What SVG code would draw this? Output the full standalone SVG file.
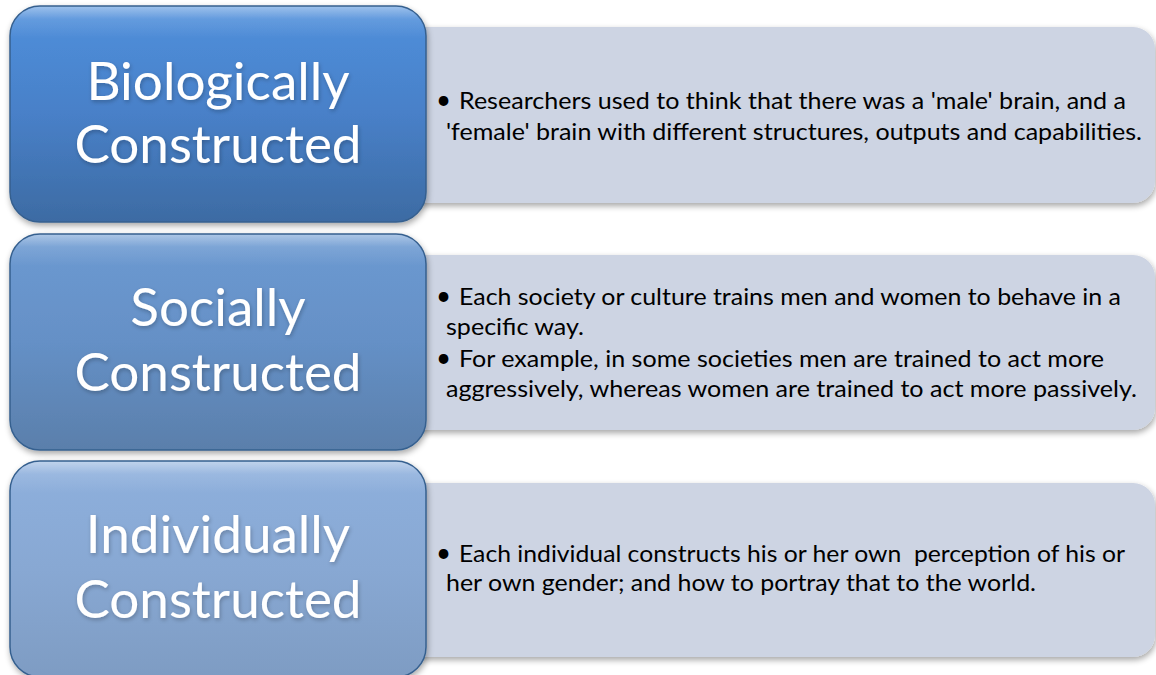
<svg xmlns="http://www.w3.org/2000/svg" width="1156" height="675" viewBox="0 0 1156 675">
  <defs>
    <linearGradient id="g1" x1="0" y1="0" x2="0" y2="1">
      <stop offset="0" stop-color="#5090dc"/>
      <stop offset="0.5" stop-color="#4880c8"/>
      <stop offset="1" stop-color="#3d6ba3"/>
    </linearGradient>
    <linearGradient id="g2" x1="0" y1="0" x2="0" y2="1">
      <stop offset="0" stop-color="#6c9ad2"/>
      <stop offset="0.5" stop-color="#6590c6"/>
      <stop offset="1" stop-color="#5a7fab"/>
    </linearGradient>
    <linearGradient id="g3" x1="0" y1="0" x2="0" y2="1">
      <stop offset="0" stop-color="#8eb0dd"/>
      <stop offset="0.5" stop-color="#88a8d3"/>
      <stop offset="1" stop-color="#7e9cc3"/>
    </linearGradient>
    <linearGradient id="gloss" x1="0" y1="0" x2="0" y2="1">
      <stop offset="0" stop-color="#ffffff" stop-opacity="0.45"/>
      <stop offset="0.06" stop-color="#ffffff" stop-opacity="0.12"/>
      <stop offset="0.15" stop-color="#ffffff" stop-opacity="0"/>
      <stop offset="1" stop-color="#ffffff" stop-opacity="0"/>
    </linearGradient>
    <filter id="shadow" x="-5%" y="-5%" width="112%" height="115%">
      <feGaussianBlur in="SourceAlpha" stdDeviation="3"/>
      <feOffset dx="1" dy="3" result="b"/>
      <feComponentTransfer><feFuncA type="linear" slope="0.35"/></feComponentTransfer>
      <feMerge><feMergeNode/><feMergeNode in="SourceGraphic"/></feMerge>
    </filter>
    <filter id="tshadow" x="-10%" y="-20%" width="120%" height="150%">
      <feGaussianBlur in="SourceAlpha" stdDeviation="2"/>
      <feOffset dx="1" dy="2"/>
      <feComponentTransfer><feFuncA type="linear" slope="0.25"/></feComponentTransfer>
      <feMerge><feMergeNode/><feMergeNode in="SourceGraphic"/></feMerge>
    </filter>
  </defs>
  <style>
    .panel { fill: #cdd4e3; }
    .head { fill: none; stroke: #36608f; stroke-width: 1.5; }
    .title { font-family: Lato, "Open Sans", sans-serif; font-weight: 400; font-size: 53px; fill: #ffffff; text-anchor: middle; }
    .body { font-family: Lato, "Open Sans", sans-serif; font-size: 23px; fill: #000000; white-space: pre; }
    .dot { font-size: 26px; }
  </style>
  <rect width="1156" height="675" fill="#ffffff"/>

  <!-- row 1 -->
  <g id="detail-biological">
    <rect class="panel" x="400" y="27" width="755" height="176" rx="22" filter="url(#shadow)"/>
    <text class="body" x="436" y="109"><tspan class="dot">•</tspan><tspan x="459" textLength="667" lengthAdjust="spacingAndGlyphs">Researchers used to think that there was a 'male' brain, and a</tspan></text>
    <text class="body" x="446" y="140" textLength="696" lengthAdjust="spacingAndGlyphs">'female' brain with different structures, outputs and capabilities.</text>
  </g>
  <g id="node-biological" filter="url(#shadow)">
    <rect x="10" y="6" width="416" height="216" rx="30" fill="url(#g1)"/>
    <rect x="10" y="6" width="416" height="216" rx="30" fill="url(#gloss)"/>
    <rect class="head" x="10" y="6" width="416" height="216" rx="30"/>
    <g filter="url(#tshadow)">
      <text class="title" x="218" y="100">Biologically</text>
      <text class="title" x="218" y="163">Constructed</text>
    </g>
  </g>

  <!-- row 2 -->
  <g id="detail-social">
    <rect class="panel" x="400" y="255" width="755" height="175" rx="22" filter="url(#shadow)"/>
    <text class="body" x="436" y="305"><tspan class="dot">•</tspan><tspan x="459" textLength="662" lengthAdjust="spacingAndGlyphs">Each society or culture trains men and women to behave in a</tspan></text>
    <text class="body" x="446" y="335" textLength="138" lengthAdjust="spacingAndGlyphs">specific way.</text>
    <text class="body" x="436" y="367"><tspan class="dot">•</tspan><tspan x="459" textLength="645" lengthAdjust="spacingAndGlyphs">For example, in some societies men are trained to act more</tspan></text>
    <text class="body" x="446" y="397" textLength="691" lengthAdjust="spacingAndGlyphs">aggressively, whereas women are trained to act more passively.</text>
  </g>
  <g id="node-social" filter="url(#shadow)">
    <rect x="10" y="234" width="416" height="216" rx="30" fill="url(#g2)"/>
    <rect x="10" y="234" width="416" height="216" rx="30" fill="url(#gloss)"/>
    <rect class="head" x="10" y="234" width="416" height="216" rx="30"/>
    <g filter="url(#tshadow)">
      <text class="title" x="218" y="326">Socially</text>
      <text class="title" x="218" y="391">Constructed</text>
    </g>
  </g>

  <!-- row 3 -->
  <g id="detail-individual">
    <rect class="panel" x="400" y="483" width="755" height="174" rx="22" filter="url(#shadow)"/>
    <text class="body" x="436" y="562"><tspan class="dot">•</tspan><tspan x="459" textLength="666" lengthAdjust="spacingAndGlyphs">Each individual constructs his or her own  perception of his or</tspan></text>
    <text class="body" x="446" y="591" textLength="590" lengthAdjust="spacingAndGlyphs">her own gender; and how to portray that to the world.</text>
  </g>
  <g id="node-individual" filter="url(#shadow)">
    <rect x="10" y="461" width="416" height="216" rx="30" fill="url(#g3)"/>
    <rect x="10" y="461" width="416" height="216" rx="30" fill="url(#gloss)"/>
    <rect class="head" x="10" y="461" width="416" height="216" rx="30" stroke="#6f8fb8"/>
    <g filter="url(#tshadow)">
      <text class="title" x="218" y="553">Individually</text>
      <text class="title" x="218" y="618">Constructed</text>
    </g>
  </g>

  <g id="connectors"/>
</svg>
